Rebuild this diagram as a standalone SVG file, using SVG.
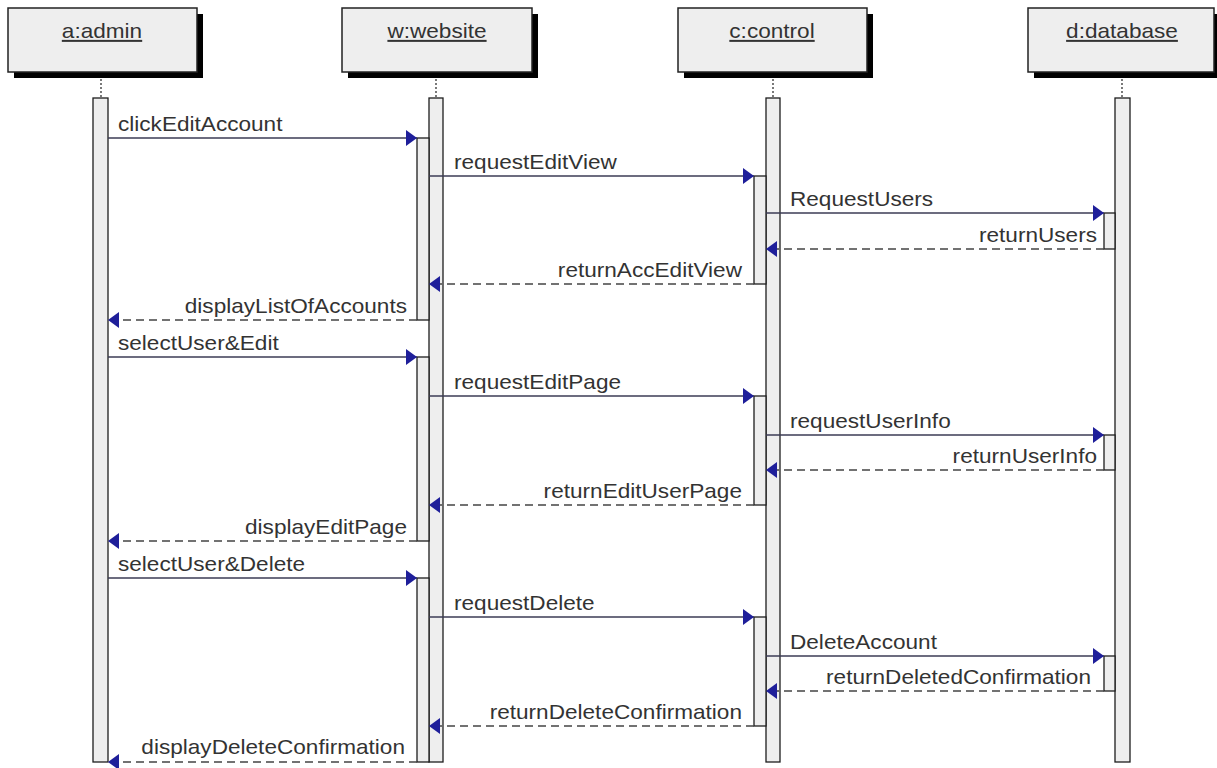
<svg xmlns="http://www.w3.org/2000/svg" width="1217" height="768" viewBox="0 0 1217 768">
<style>
.bg{fill:#ffffff}
.shadow{fill:#000000}
.box{fill:#eeeeee;stroke:#222222;stroke-width:1.5}
.life{stroke:#333333;stroke-width:1.3;stroke-dasharray:2 2;fill:none}
.bar{fill:#eeeeee;stroke:#1e1e1e;stroke-width:1.3}
.msg{stroke:#3b3b55;stroke-width:1.5;fill:none;marker-end:url(#ah)}
.ret{stroke:#444444;stroke-width:1.4;fill:none;stroke-dasharray:8 5;marker-end:url(#ah)}
.lbl{font-family:"Liberation Sans",Arial,sans-serif;font-size:20px;fill:#333333}
.r{text-anchor:end}
.hd{font-family:"Liberation Sans",Arial,sans-serif;font-size:20px;fill:#333333;text-anchor:middle;text-decoration:underline}
</style>
<defs>
<marker id="ah" viewBox="0 0 11 16" markerWidth="11" markerHeight="16" refX="11" refY="8" orient="auto" markerUnits="userSpaceOnUse">
<path d="M0,0 L11,8 L0,16 z" fill="#1f1f9a"/>
</marker>
</defs>
<rect class="bg" x="0" y="0" width="1217" height="768"/>

<g id="admin">
<rect class="shadow" x="14" y="14" width="189" height="64"/>
<rect class="box" x="8" y="8" width="189" height="64"/>
<text class="hd" transform="translate(102,38) scale(1.13,1)">a:admin</text>
<line class="life" x1="101" y1="79" x2="101" y2="98"/>
<rect class="bar" x="93" y="98" width="15" height="664"/>
</g>

<g id="website">
<rect class="shadow" x="348" y="14" width="190" height="64"/>
<rect class="box" x="342" y="8" width="190" height="64"/>
<text class="hd" transform="translate(437,38) scale(1.13,1)">w:website</text>
<line class="life" x1="436" y1="79" x2="436" y2="98"/>
<rect class="bar" x="429" y="98" width="14" height="664"/>
<rect class="bar" x="417" y="138" width="12" height="182"/>
<rect class="bar" x="417" y="357" width="12" height="184"/>
<rect class="bar" x="417" y="578" width="12" height="184"/>
</g>

<g id="control">
<rect class="shadow" x="684" y="14" width="189" height="64"/>
<rect class="box" x="678" y="8" width="189" height="64"/>
<text class="hd" transform="translate(772,38) scale(1.13,1)">c:control</text>
<line class="life" x1="773" y1="79" x2="773" y2="98"/>
<rect class="bar" x="766" y="98" width="14" height="664"/>
<rect class="bar" x="754" y="176" width="12" height="108"/>
<rect class="bar" x="754" y="396" width="12" height="109"/>
<rect class="bar" x="754" y="617" width="12" height="109"/>
</g>

<g id="database">
<rect class="shadow" x="1034" y="14" width="188" height="64"/>
<rect class="box" x="1028" y="8" width="186" height="64"/>
<text class="hd" transform="translate(1122,38) scale(1.13,1)">d:database</text>
<line class="life" x1="1122" y1="79" x2="1122" y2="98"/>
<rect class="bar" x="1115" y="98" width="15" height="664"/>
<rect class="bar" x="1104" y="213" width="11" height="36"/>
<rect class="bar" x="1104" y="435" width="11" height="35"/>
<rect class="bar" x="1104" y="656" width="11" height="35"/>
</g>

<g id="connectors">
<path class="msg" d="M108,138 H417"/>
<path class="msg" d="M429,176 H754"/>
<path class="msg" d="M766,213 H1104"/>
<path class="ret" d="M1104,249 H766"/>
<path class="ret" d="M754,284 H429"/>
<path class="ret" d="M417,320 H108"/>
<path class="msg" d="M108,357 H417"/>
<path class="msg" d="M429,396 H754"/>
<path class="msg" d="M766,435 H1104"/>
<path class="ret" d="M1104,470 H766"/>
<path class="ret" d="M754,505 H429"/>
<path class="ret" d="M417,541 H108"/>
<path class="msg" d="M108,578 H417"/>
<path class="msg" d="M429,617 H754"/>
<path class="msg" d="M766,656 H1104"/>
<path class="ret" d="M1104,691 H766"/>
<path class="ret" d="M754,726 H429"/>
<path class="ret" d="M417,762 H108"/>

<text class="lbl" transform="translate(118,131) scale(1.13,1)">clickEditAccount</text>
<text class="lbl" transform="translate(454,169) scale(1.13,1)">requestEditView</text>
<text class="lbl" transform="translate(790,206) scale(1.13,1)">RequestUsers</text>
<text class="lbl r" transform="translate(1097,242) scale(1.13,1)">returnUsers</text>
<text class="lbl r" transform="translate(742,277) scale(1.13,1)">returnAccEditView</text>
<text class="lbl r" transform="translate(407,313) scale(1.13,1)">displayListOfAccounts</text>
<text class="lbl" transform="translate(118,350) scale(1.13,1)">selectUser&amp;Edit</text>
<text class="lbl" transform="translate(454,389) scale(1.13,1)">requestEditPage</text>
<text class="lbl" transform="translate(790,428) scale(1.13,1)">requestUserInfo</text>
<text class="lbl r" transform="translate(1097,463) scale(1.13,1)">returnUserInfo</text>
<text class="lbl r" transform="translate(742,498) scale(1.13,1)">returnEditUserPage</text>
<text class="lbl r" transform="translate(407,534) scale(1.13,1)">displayEditPage</text>
<text class="lbl" transform="translate(118,571) scale(1.13,1)">selectUser&amp;Delete</text>
<text class="lbl" transform="translate(454,610) scale(1.13,1)">requestDelete</text>
<text class="lbl" transform="translate(790,649) scale(1.13,1)">DeleteAccount</text>
<text class="lbl r" transform="translate(1091,684) scale(1.13,1)">returnDeletedConfirmation</text>
<text class="lbl r" transform="translate(742,719) scale(1.13,1)">returnDeleteConfirmation</text>
<text class="lbl r" transform="translate(405,754) scale(1.13,1)">displayDeleteConfirmation</text>
</g>
</svg>
